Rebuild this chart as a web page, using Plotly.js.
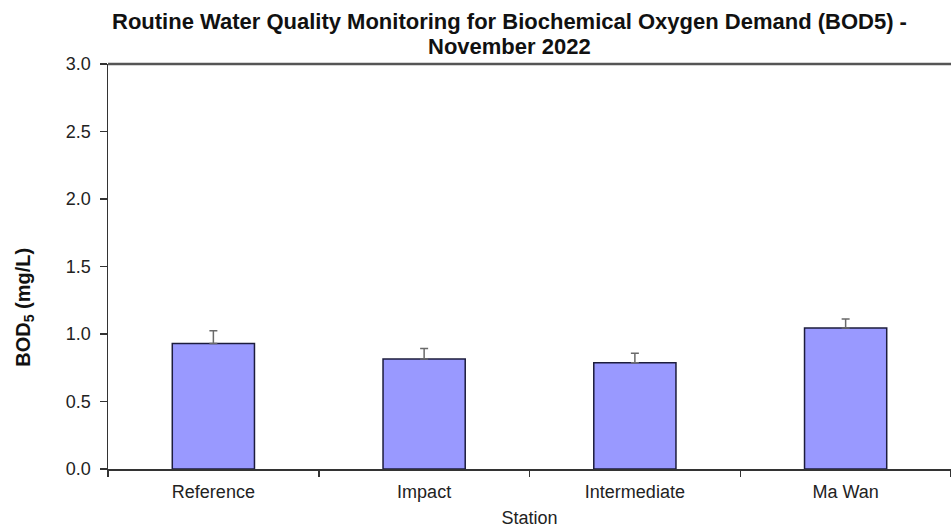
<!DOCTYPE html>
<html>
<head>
<meta charset="utf-8">
<script src="https://cdn.plot.ly/plotly-3.0.1.min.js"></script>
<style>html,body{margin:0;padding:0;background:#fff;}#chart{width:951px;height:530px;}</style>
</head>
<body>
<div id="chart"></div>
<script>
const stations = ["Reference", "Impact", "Intermediate", "Ma Wan"];
const bod5 = [0.93, 0.815, 0.787, 1.045];
const bod5Err = [0.095, 0.078, 0.07, 0.067];
const yTicks = [0, 0.5, 1.0, 1.5, 2.0, 2.5, 3.0];
const titleLines = ["Routine Water Quality Monitoring for Biochemical Oxygen Demand (BOD5) -", "November 2022"];

const trace = {
  type: "bar",
  x: stations,
  y: bod5,
  marker: {color: "#9999ff", line: {color: "#1c1c3c", width: 1.5}},
  error_y: {type: "data", array: bod5Err, symmetric: false, arrayminus: bod5Err.map(() => 0),
            color: "#6a6a6a", thickness: 1.5, width: 4},
  hoverinfo: "x+y"
};

const titleFont = {size: 22, color: "#111", family: "Liberation Sans, Arial, sans-serif"};

const layout = {
  width: 951, height: 530,
  margin: {l: 108, r: 0, t: 64, b: 61},
  paper_bgcolor: "#fff", plot_bgcolor: "#fff",
  font: {family: "Liberation Sans, Arial, sans-serif", color: "#222"},
  bargap: 0.61,
  showlegend: false,
  xaxis: {
    type: "category",
    range: [-0.5, 3.5],
    showline: true, linecolor: "#333", linewidth: 1.5,
    ticks: "outside", tickson: "boundaries", ticklen: 6, tickcolor: "#333", tickwidth: 1.5,
    tickfont: {size: 18, color: "#222"},
    ticklabelstandoff: 6,
    showgrid: false, zeroline: false,
    title: {text: "Station", font: {size: 18, color: "#222"}, standoff: 10}
  },
  yaxis: {
    range: [0, 3],
    tickvals: yTicks,
    tickformat: ".1f",
    showline: true, linecolor: "#333", linewidth: 1.5,
    ticks: "outside", ticklen: 7, tickcolor: "#333", tickwidth: 1.5,
    tickfont: {size: 18, color: "#222"},
    ticklabelstandoff: 5,
    showgrid: false, zeroline: false
  },
  shapes: [{
    type: "line", xref: "paper", yref: "paper", x0: 0, x1: 1, y0: 1, y1: 1,
    line: {color: "#555", width: 2.5}
  }],
  annotations: [
    {
      text: "<b>" + titleLines[0] + "</b>",
      xref: "paper", yref: "paper", x: 0.4757, y: 1.106,
      xanchor: "center", yanchor: "middle", showarrow: false, font: titleFont
    },
    {
      text: "<b>" + titleLines[1] + "</b>",
      xref: "paper", yref: "paper", x: 0.4757, y: 1.043,
      xanchor: "center", yanchor: "middle", showarrow: false, font: titleFont
    },
    {
      text: "<b>BOD<sub>5</sub> (mg/L)</b>",
      xref: "paper", yref: "paper", x: -0.1, y: 0.40,
      xanchor: "center", yanchor: "middle", textangle: -90, showarrow: false,
      font: {size: 20, color: "#111"}
    }
  ]
};

Plotly.newPlot("chart", [trace], layout, {displayModeBar: false, staticPlot: true});
</script>
</body>
</html>
